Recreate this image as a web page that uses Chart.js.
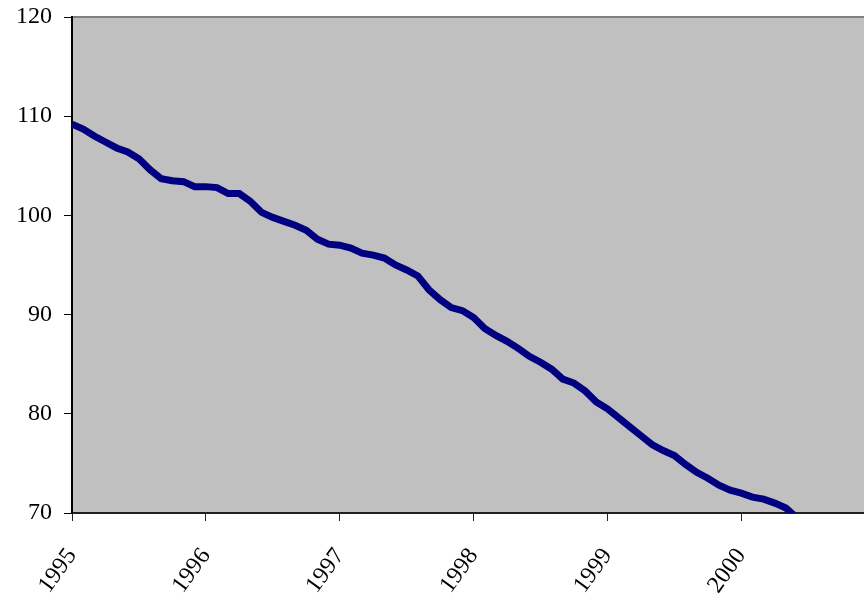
<!DOCTYPE html>
<html>
<head>
<meta charset="utf-8">
<script src="https://cdn.jsdelivr.net/npm/chart.js@4.4.1/dist/chart.umd.min.js"></script>
<style>
  html, body { margin: 0; padding: 0; background: #fff; }
  #wrap { width: 864px; height: 601px; }
</style>
</head>
<body>
<div id="wrap"><canvas id="chart" width="864" height="601"></canvas></div>
<script>
// ---------- data ----------
const years = ["1995", "1996", "1997", "1998", "1999", "2000"];
const yTicks = [70, 80, 90, 100, 110, 120];

// monthly values, Jan 1995 .. Dec 2000 (last months run below the axis)
const values = [
  109.2, 108.7, 108.0, 107.4, 106.8, 106.4, 105.7, 104.6, 103.7, 103.5, 103.4, 102.9,
  102.9, 102.8, 102.2, 102.2, 101.4, 100.3, 99.8, 99.4, 99.0, 98.5, 97.6, 97.1,
  97.0, 96.7, 96.2, 96.0, 95.7, 95.0, 94.5, 93.9, 92.5, 91.5, 90.7, 90.4,
  89.7, 88.6, 87.9, 87.3, 86.6, 85.8, 85.2, 84.5, 83.5, 83.1, 82.3, 81.2,
  80.5, 79.6, 78.7, 77.8, 76.9, 76.3, 75.8, 74.9, 74.1, 73.5, 72.8, 72.3,
  72.0, 71.6, 71.4, 71.0, 70.5, 69.5, null, null, null, null, null, null
];

// one category per month, label only on January
const months = [];
years.forEach(y => { for (let m = 0; m < 12; m++) months.push(m === 0 ? y : ""); });

const FONT = { family: "'Liberation Serif', 'Times New Roman', serif", size: 24 };

// grey plot area + grey top border
const plotBg = {
  id: "plotBg",
  beforeDraw(chart) {
    const { ctx, chartArea: a } = chart;
    ctx.save();
    ctx.fillStyle = "#C0C0C0";
    ctx.fillRect(a.left, a.top, a.right - a.left, a.bottom - a.top);
    ctx.strokeStyle = "#808080";
    ctx.lineWidth = 2;
    ctx.beginPath();
    ctx.moveTo(a.left, a.top);
    ctx.lineTo(a.right, a.top);
    ctx.stroke();
    ctx.restore();
  }
};

new Chart(document.getElementById("chart"), {
  type: "line",
  data: {
    labels: months,
    datasets: [{
      data: values,
      borderColor: "#000080",
      borderWidth: 7,
      pointRadius: 0,
      tension: 0,
      spanGaps: false,
      clip: { left: 5, top: 5, right: 0, bottom: 0 }
    }]
  },
  options: {
    responsive: false,
    animation: false,
    layout: { padding: { top: 17, right: 0, left: 0, bottom: 0 } },
    plugins: { legend: { display: false }, tooltip: { enabled: false } },
    scales: {
      x: {
        offset: false,
        afterFit: s => { s.height = 88; s.paddingLeft = 0; s.paddingRight = 0; },
        border: { display: true, color: "#202020", width: 2 },
        grid: { drawOnChartArea: false, drawTicks: true, tickLength: 8, color: "#202020", lineWidth: 1 },
        ticks: {
          autoSkip: false,
          minRotation: 54,
          maxRotation: 54,
          padding: 22,
          color: "#000",
          font: FONT,
          callback: (v, i) => (months[i] ? months[i] : null)
        }
      },
      y: {
        min: yTicks[0],
        max: yTicks[yTicks.length - 1],
        afterFit: s => { s.width = 72; s.paddingTop = 0; s.paddingBottom = 0; },
        afterBuildTicks: s => { s.ticks = yTicks.map(v => ({ value: v })); },
        border: { display: true, color: "#000", width: 2 },
        grid: { drawOnChartArea: false, drawTicks: true, tickLength: 8, color: "#000", lineWidth: 1 },
        ticks: { padding: 12, color: "#000", font: FONT }
      }
    }
  },
  plugins: [plotBg]
});
</script>
</body>
</html>
